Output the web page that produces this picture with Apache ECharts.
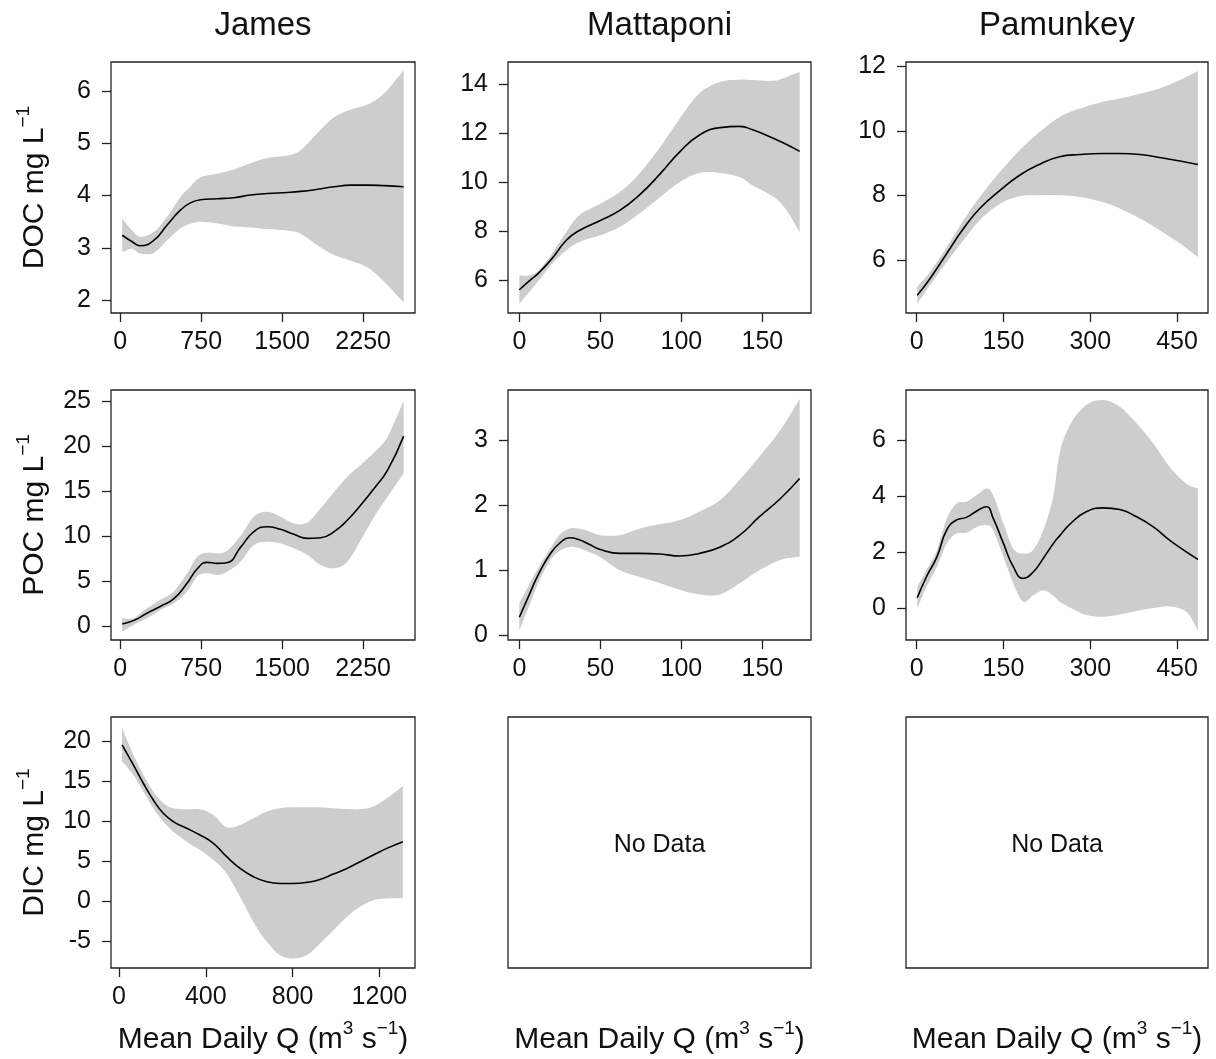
<!DOCTYPE html>
<html>
<head>
<meta charset="utf-8">
<script src="https://cdn.jsdelivr.net/npm/echarts@6/dist/echarts.min.js"></script>
<style>html,body{margin:0;padding:0;background:#fff}#c{width:1216px;height:1059px}</style>
</head>
<body>
<div id="c"></div>
<script>
// ---------- data ----------
const columnTitles = ['James', 'Mattaponi', 'Pamunkey'];
const noDataText = 'No Data';

// James DOC
const jamesDocX   = [19, 108, 186, 310, 433, 557, 650, 743, 898, 1052, 1207, 1362, 1548, 1671, 1826, 1981, 2136, 2290, 2445, 2625];
const jamesDocFit = [3.24, 3.12, 3.04, 3.14, 3.43, 3.72, 3.86, 3.92, 3.94, 3.96, 4.01, 4.04, 4.06, 4.08, 4.12, 4.17, 4.20, 4.20, 4.19, 4.17];
const jamesDocHi  = [3.56, 3.34, 3.21, 3.30, 3.59, 3.97, 4.17, 4.35, 4.42, 4.50, 4.62, 4.72, 4.77, 4.87, 5.20, 5.50, 5.65, 5.74, 5.96, 6.40];
const jamesDocLo  = [2.91, 2.98, 2.89, 2.90, 3.14, 3.37, 3.46, 3.50, 3.47, 3.41, 3.39, 3.36, 3.33, 3.27, 3.05, 2.86, 2.75, 2.62, 2.35, 1.95];

// Mattaponi DOC
const mattDocX   = [0, 6, 12, 20, 29, 37, 50, 62, 74, 87, 99, 111, 124, 136, 144, 157, 165, 173];
const mattDocFit = [5.62, 5.97, 6.31, 6.88, 7.64, 8.04, 8.45, 8.86, 9.48, 10.36, 11.25, 11.93, 12.24, 12.29, 12.15, 11.80, 11.55, 11.27];
const mattDocHi  = [6.20, 6.20, 6.41, 7.08, 7.98, 8.66, 9.13, 9.61, 10.36, 11.45, 12.61, 13.63, 14.11, 14.20, 14.18, 14.15, 14.31, 14.52];
const mattDocLo  = [5.05, 5.52, 6.00, 6.66, 7.23, 7.57, 7.84, 8.18, 8.73, 9.41, 10.02, 10.39, 10.39, 10.22, 9.88, 9.41, 8.86, 7.98];

// Pamunkey DOC
const pamDocX   = [1, 23, 52, 81, 109, 144, 178, 213, 247, 282, 322, 351, 386, 420, 455, 486];
const pamDocFit = [4.92, 5.43, 6.21, 6.98, 7.60, 8.16, 8.63, 8.97, 9.20, 9.27, 9.30, 9.30, 9.27, 9.18, 9.07, 8.96];
const pamDocHi  = [5.18, 5.64, 6.41, 7.24, 7.96, 8.73, 9.40, 9.97, 10.43, 10.69, 10.90, 11.00, 11.15, 11.31, 11.57, 11.85];
const pamDocLo  = [4.66, 5.23, 5.95, 6.62, 7.24, 7.75, 7.98, 8.01, 8.01, 7.96, 7.80, 7.60, 7.29, 6.93, 6.52, 6.10];

// James POC
const jamesPocX   = [19, 124, 248, 371, 495, 619, 712, 805, 898, 990, 1114, 1238, 1362, 1486, 1609, 1733, 1857, 1981, 2105, 2228, 2352, 2476, 2625];
const jamesPocFit = [0.26, 0.63, 1.44, 2.20, 3.04, 4.76, 6.35, 7.09, 6.98, 7.05, 8.75, 10.50, 11.04, 10.75, 10.20, 9.75, 9.82, 10.49, 11.78, 13.44, 15.29, 17.32, 21.09];
const jamesPocHi  = [0.89, 0.89, 1.99, 2.92, 3.84, 5.87, 7.72, 8.16, 8.09, 8.38, 10.01, 12.15, 12.70, 12.15, 11.41, 11.50, 13.10, 14.90, 16.60, 17.90, 19.30, 21.00, 25.00];
const jamesPocLo  = [-0.59, 0.15, 0.89, 1.81, 2.55, 3.84, 5.50, 5.87, 5.69, 6.06, 7.16, 9.01, 9.38, 9.19, 8.64, 7.90, 6.79, 6.43, 7.16, 9.56, 12.15, 14.37, 16.95];

// Mattaponi POC
const mattPocX   = [0, 6, 12, 19, 25, 31, 37, 43, 50, 62, 74, 87, 99, 111, 124, 136, 148, 161, 173];
const mattPocFit = [0.28, 0.62, 0.95, 1.25, 1.42, 1.50, 1.47, 1.40, 1.32, 1.26, 1.26, 1.25, 1.22, 1.26, 1.36, 1.54, 1.82, 2.10, 2.41];
const mattPocHi  = [0.50, 0.78, 1.05, 1.33, 1.55, 1.64, 1.64, 1.60, 1.54, 1.54, 1.64, 1.71, 1.77, 1.90, 2.08, 2.39, 2.74, 3.15, 3.63];
const mattPocLo  = [0.07, 0.45, 0.82, 1.15, 1.30, 1.36, 1.34, 1.28, 1.20, 1.00, 0.90, 0.80, 0.70, 0.63, 0.63, 0.80, 1.00, 1.16, 1.21];

// Pamunkey POC
const pamPocX   = [1, 17, 35, 52, 69, 86, 104, 121, 132, 150, 167, 184, 201, 219, 236, 247, 265, 293, 322, 351, 380, 409, 437, 466, 486];
const pamPocFit = [0.37, 1.12, 1.83, 2.79, 3.15, 3.24, 3.47, 3.62, 3.22, 2.31, 1.48, 1.06, 1.28, 1.78, 2.30, 2.58, 3.00, 3.44, 3.58, 3.52, 3.26, 2.90, 2.43, 2.01, 1.74];
const pamPocHi  = [0.76, 1.36, 2.07, 3.20, 3.74, 3.80, 4.04, 4.27, 4.04, 3.02, 2.13, 1.95, 2.07, 2.79, 3.98, 5.52, 6.54, 7.25, 7.43, 7.19, 6.60, 5.88, 5.05, 4.45, 4.27];
const pamPocLo  = [-0.01, 0.76, 1.48, 2.31, 2.67, 2.69, 2.90, 2.96, 2.79, 1.83, 0.88, 0.23, 0.45, 0.64, 0.45, 0.23, 0.02, -0.25, -0.31, -0.23, -0.10, 0.00, 0.06, -0.13, -0.79];

// James DIC
const jamesDicX   = [14, 66, 112, 158, 204, 250, 312, 373, 435, 496, 558, 619, 681, 742, 803, 865, 926, 988, 1050, 1111, 1172, 1234, 1308];
const jamesDicFit = [19.58, 17.07, 14.77, 12.68, 11.01, 9.97, 9.13, 8.29, 7.25, 5.58, 4.11, 3.07, 2.44, 2.23, 2.23, 2.36, 2.73, 3.40, 4.11, 4.95, 5.79, 6.62, 7.46];
const jamesDicHi  = [21.67, 18.33, 15.82, 13.73, 12.27, 11.64, 11.51, 11.51, 10.80, 9.26, 9.55, 10.38, 11.22, 11.64, 11.76, 11.76, 11.76, 11.64, 11.55, 11.51, 11.85, 12.89, 14.44];
const jamesDicLo  = [17.49, 15.82, 13.73, 11.64, 9.97, 8.71, 7.46, 6.41, 5.16, 3.49, 0.56, -2.58, -5.08, -6.76, -7.17, -6.76, -5.29, -3.62, -1.95, -0.69, 0.14, 0.35, 0.35];

// tick labels
const jamesXTicks = [0, 750, 1500, 2250];
const jamesDicXTicks = [0, 400, 800, 1200];
const mattXTicks = [0, 50, 100, 150];
const pamXTicks = [0, 150, 300, 450];
const jamesDocYTicks = [2, 3, 4, 5, 6];
const mattDocYTicks = [6, 8, 10, 12, 14];
const pamDocYTicks = [6, 8, 10, 12];
const jamesPocYTicks = [0, 5, 10, 15, 20, 25];
const mattPocYTicks = [0, 1, 2, 3];
const pamPocYTicks = [0, 2, 4, 6];
const jamesDicYTicks = [-5, 0, 5, 10, 15, 20];

// ---------- layout / styling ----------
const FONT = "'Liberation Sans', Arial, Helvetica, sans-serif";
const INK = '#111';
const BAND = '#cdcdcd';
const colLeft = [111, 508, 906];
const colWidth = [304, 303, 302];
const rowTop = [62, 390, 717];
const rowHeight = [251, 250, 251];

const nameRich = {
  m: {fontSize: 30, lineHeight: 42, fontFamily: FONT, color: INK},
  s: {fontSize: 19, lineHeight: 19, verticalAlign: 'top', fontFamily: FONT, color: INK}
};
const xName = '{m|Mean Daily Q (m}{s|3}{m| s}{s|\u22121}{m|)}';

const panels = [
  {r:0, c:0, x:jamesDocX, fit:jamesDocFit, lo:jamesDocLo, hi:jamesDocHi, xr:[-85, 2730], xt:jamesXTicks, yr:[1.75, 6.56], yt:jamesDocYTicks, yName:'DOC'},
  {r:0, c:1, x:mattDocX, fit:mattDocFit, lo:mattDocLo, hi:mattDocHi, xr:[-7, 180], xt:mattXTicks, yr:[4.67, 14.92], yt:mattDocYTicks},
  {r:0, c:2, x:pamDocX, fit:pamDocFit, lo:pamDocLo, hi:pamDocHi, xr:[-18.4, 503.5], xt:pamXTicks, yr:[4.37, 12.13], yt:pamDocYTicks},
  {r:1, c:0, x:jamesPocX, fit:jamesPocFit, lo:jamesPocLo, hi:jamesPocHi, xr:[-85, 2730], xt:jamesXTicks, yr:[-1.52, 26.2], yt:jamesPocYTicks, yName:'POC'},
  {r:1, c:1, x:mattPocX, fit:mattPocFit, lo:mattPocLo, hi:mattPocHi, xr:[-7, 180], xt:mattXTicks, yr:[-0.07, 3.77], yt:mattPocYTicks},
  {r:1, c:2, x:pamPocX, fit:pamPocFit, lo:pamPocLo, hi:pamPocHi, xr:[-18.4, 503.5], xt:pamXTicks, yr:[-1.14, 7.79], yt:pamPocYTicks},
  {r:2, c:0, x:jamesDicX, fit:jamesDicFit, lo:jamesDicLo, hi:jamesDicHi, xr:[-37, 1364], xt:jamesDicXTicks, yr:[-8.35, 23.06], yt:jamesDicYTicks, yName:'DIC', xLabel:true},
  {r:2, c:1, empty:true, xLabel:true},
  {r:2, c:2, empty:true, xLabel:true}
];

// smooth path (Catmull-Rom -> cubic Bezier) through pixel points
function smoothSegs(pts, start) {
  let d = (start ? 'M' : 'L') + pts[0][0] + ',' + pts[0][1];
  const t = 0.17;
  for (let i = 0; i < pts.length - 1; i++) {
    const p0 = pts[Math.max(0, i - 1)], p1 = pts[i], p2 = pts[i + 1], p3 = pts[Math.min(pts.length - 1, i + 2)];
    const c1x = p1[0] + (p2[0] - p0[0]) * t, c1y = p1[1] + (p2[1] - p0[1]) * t;
    const c2x = p2[0] - (p3[0] - p1[0]) * t, c2y = p2[1] - (p3[1] - p1[1]) * t;
    d += 'C' + c1x + ',' + c1y + ',' + c2x + ',' + c2y + ',' + p2[0] + ',' + p2[1];
  }
  return d;
}

const grids = [], xAxes = [], yAxes = [], series = [], graphics = [];
const fmt = v => String(v);

panels.forEach((p, i) => {
  grids.push({
    left: colLeft[p.c], top: rowTop[p.r], width: colWidth[p.c], height: rowHeight[p.r],
    show: true, borderColor: '#222', borderWidth: 1.3, backgroundColor: 'transparent',
    containLabel: false, outerBoundsMode: 'none'
  });
  const tickStyle = {color: '#222', width: 1.3};
  const xa = {
    gridIndex: i, type: 'value', min: p.empty ? 0 : p.xr[0], max: p.empty ? 1 : p.xr[1],
    axisLine: {show: false, onZero: false},
    splitLine: {show: false},
    axisTick: p.empty ? {show: false} : {show: true, inside: false, length: 9, customValues: p.xt, lineStyle: tickStyle},
    axisLabel: p.empty ? {show: false} : {show: true, customValues: p.xt, margin: 17, fontSize: 25, color: INK, fontFamily: FONT, formatter: fmt}
  };
  if (p.xLabel) {
    xa.name = xName;
    xa.nameLocation = 'middle';
    xa.nameGap = 51;
    xa.nameTextStyle = {rich: nameRich};
  }
  xAxes.push(xa);
  const ya = {
    gridIndex: i, type: 'value', min: p.empty ? 0 : p.yr[0], max: p.empty ? 1 : p.yr[1],
    axisLine: {show: false, onZero: false},
    splitLine: {show: false},
    axisTick: p.empty ? {show: false} : {show: true, inside: false, length: 9, customValues: p.yt, lineStyle: tickStyle},
    axisLabel: p.empty ? {show: false} : {show: true, customValues: p.yt, margin: 20, fontSize: 25, color: INK, fontFamily: FONT, formatter: fmt}
  };
  if (p.yName) {
    ya.name = '{m|' + p.yName + ' mg L}{s|\u22121}';
    ya.nameLocation = 'middle';
    ya.nameRotate = 90;
    ya.nameGap = 55;
    ya.nameTextStyle = {rich: nameRich};
  }
  yAxes.push(ya);

  if (p.empty) {
    graphics.push({
      type: 'text', x: colLeft[p.c] + colWidth[p.c] / 2, y: 845,
      style: {text: noDataText, font: '25px ' + FONT, fill: INK, align: 'center', verticalAlign: 'middle'}
    });
    return;
  }
  // confidence band: custom series, drawn once from the band rows through the axes
  const bandRows = p.x.map((v, j) => [v, p.lo[j], p.hi[j]]);
  series.push({
    type: 'custom', coordinateSystem: 'cartesian2d', xAxisIndex: i, yAxisIndex: i,
    data: bandRows, encode: {x: 0, y: [1, 2]}, silent: true, z: 1, clip: true,
    renderItem: function (params, api) {
      if (params.dataIndex !== 0) return null;
      const up = bandRows.map(r => api.coord([r[0], r[2]]));
      const dn = bandRows.map(r => api.coord([r[0], r[1]])).reverse();
      const d = smoothSegs(up, true) + smoothSegs(dn, false) + 'Z';
      return {type: 'path', shape: {pathData: d}, style: {fill: BAND, stroke: null}};
    }
  });
  series.push({
    type: 'line', xAxisIndex: i, yAxisIndex: i,
    data: p.x.map((v, j) => [v, p.fit[j]]), symbol: 'none', smooth: 0.5, silent: true,
    lineStyle: {color: '#000', width: 1.6}, z: 3
  });
});

columnTitles.forEach((t, c) => {
  graphics.push({
    type: 'text', x: colLeft[c] + colWidth[c] / 2, y: 26,
    style: {text: t, font: '33px ' + FONT, fill: INK, align: 'center', verticalAlign: 'middle'}
  });
});

const chart = echarts.init(document.getElementById('c'), null, {renderer: 'canvas'});
chart.setOption({
  animation: false,
  backgroundColor: '#fff',
  textStyle: {fontFamily: FONT},
  grid: grids,
  xAxis: xAxes,
  yAxis: yAxes,
  series: series,
  graphic: graphics
});
</script>
</body>
</html>
